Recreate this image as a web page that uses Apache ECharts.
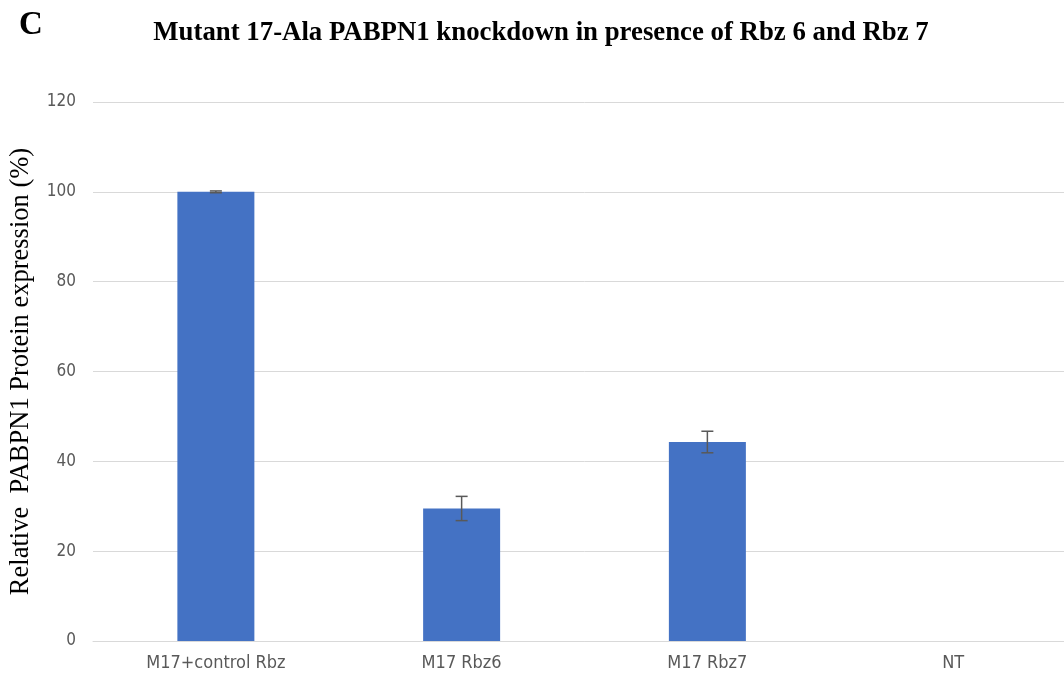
<!DOCTYPE html>
<html>
<head>
<meta charset="utf-8">
<script src="https://cdn.jsdelivr.net/npm/echarts@6/dist/echarts.min.js"></script>
<style>
  html, body { margin: 0; padding: 0; background: #fff; overflow: hidden; }
  /* drawing surface is a little wider than the window: the last slot is cut at the edge */
  #chart { width: 1076px; height: 676px; }
</style>
</head>
<body>
<div id="chart"></div>
<script>
// Knockdown data: relative PABPN1 protein expression (%)
const categories = ['M17+control Rbz', 'M17 Rbz6', 'M17 Rbz7', 'NT'];
const expression = [100, 29.5, 44.3, 0];
const errors = [0.2, 2.7, 2.4, 0];
const yTicks = [0, 20, 40, 60, 80, 100, 120];

const chart = echarts.init(document.getElementById('chart'), null, { renderer: 'canvas' });

const serif = "'Liberation Serif', 'DejaVu Serif', serif";
const narrow = "'Liberation Sans Narrow', 'DejaVu Sans Condensed', 'Liberation Sans', sans-serif";

chart.setOption({
  animation: false,
  backgroundColor: '#ffffff',
  title: [
    {
      text: 'C',
      left: 14, top: 4,
      textStyle: { fontFamily: serif, fontWeight: 'bold', fontSize: 33, color: '#000' }
    },
    {
      text: 'Mutant 17-Ala PABPN1 knockdown in presence of Rbz 6 and Rbz 7',
      left: 536, top: 15, textAlign: 'center',
      textStyle: { fontFamily: serif, fontWeight: 'bold', fontSize: 26.8, color: '#000' }
    }
  ],
  grid: { left: 92, right: 0, top: 102, bottom: 35, containLabel: false },
  xAxis: {
    type: 'category',
    data: categories,
    axisLine: { show: true, lineStyle: { color: '#d9d9d9', width: 1 } },
    axisTick: { show: false },
    axisLabel: { color: '#595959', fontFamily: narrow, fontSize: 18, margin: 13 }
  },
  yAxis: {
    type: 'value',
    min: yTicks[0], max: yTicks[yTicks.length - 1], interval: 20,
    name: 'Relative  PABPN1 Protein expression (%)',
    nameLocation: 'middle',
    nameGap: 58,
    nameTextStyle: { fontFamily: serif, fontSize: 26.5, color: '#000' },
    axisLine: { show: false },
    axisTick: { show: false },
    axisLabel: { color: '#595959', fontFamily: narrow, fontSize: 17, margin: 17 },
    splitLine: { lineStyle: { color: '#d9d9d9', width: 1 } }
  },
  series: [
    {
      type: 'bar',
      data: expression,
      barWidth: 77,
      itemStyle: { color: '#4472c4' },
      z: 2
    },
    {
      type: 'custom',
      data: expression.map((v, i) => [i, v, errors[i]]),
      z: 3,
      renderItem: function (params, api) {
        const i = api.value(0);
        const mean = api.value(1);
        const err = api.value(2);
        if (!mean) return null;
        const top = api.coord([i, mean + err]);
        const bot = api.coord([i, mean - err]);
        const cap = 6;
        const style = { stroke: '#595959', lineWidth: 1.5 };
        return {
          type: 'group',
          children: [
            { type: 'line', shape: { x1: top[0], y1: top[1], x2: bot[0], y2: bot[1] }, style: style },
            { type: 'line', shape: { x1: top[0] - cap, y1: top[1], x2: top[0] + cap, y2: top[1] }, style: style },
            { type: 'line', shape: { x1: bot[0] - cap, y1: bot[1], x2: bot[0] + cap, y2: bot[1] }, style: style }
          ]
        };
      }
    }
  ]
});
</script>
</body>
</html>
